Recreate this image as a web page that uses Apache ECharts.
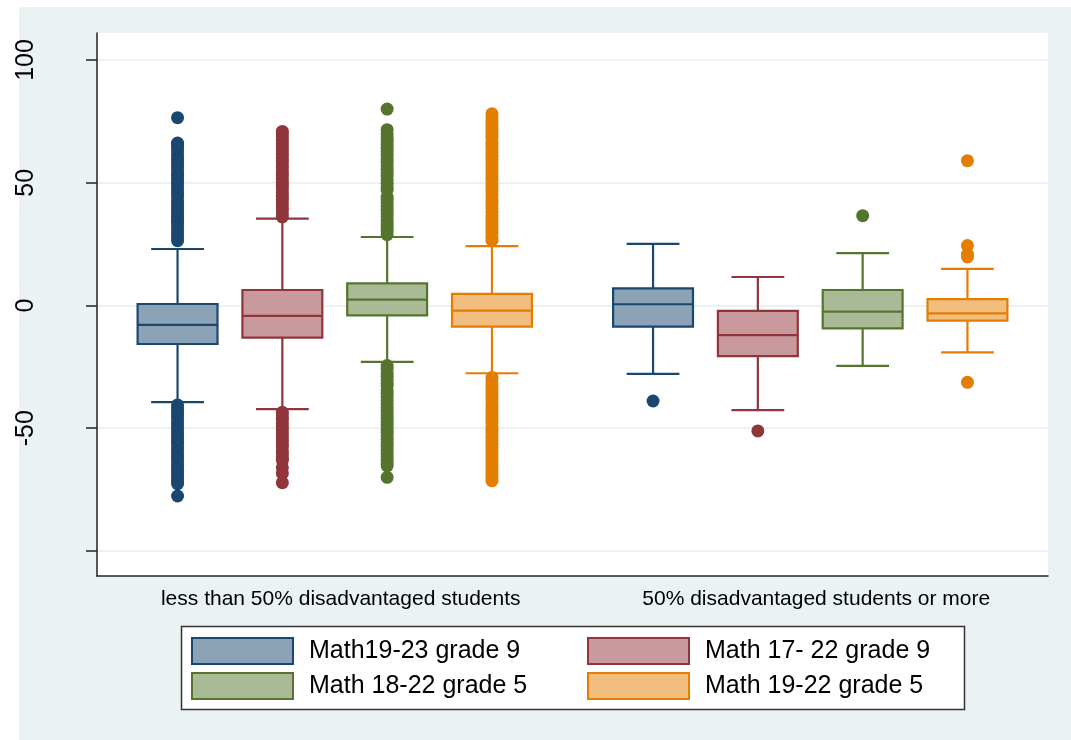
<!DOCTYPE html>
<html>
<head>
<meta charset="utf-8">
<title>Math score change by share of disadvantaged students</title>
<script src="https://cdn.jsdelivr.net/npm/echarts@6/dist/echarts.min.js"></script>
<style>
  html, body { margin: 0; padding: 0; background: #ffffff; }
  #backdrop { position: absolute; left: 19px; top: 7px; right: 0; bottom: 0; background: #eaf2f3; }
  #chart { position: absolute; left: 0; top: 0; width: 1071px; height: 740px; }
</style>
</head>
<body>
<div id="backdrop"></div>
<div id="chart"></div>
<script>
// School groups on the x axis
const groups = ['less than 50% disadvantaged students', '50% disadvantaged students or more'];

// Cohorts (one box per cohort in each group)
const cohorts = ['Math19-23 grade 9', 'Math 17- 22 grade 9', 'Math 18-22 grade 5', 'Math 19-22 grade 5'];

// Box statistics per group: [lower whisker, Q1, median, Q3, upper whisker]
const math1923g9 = [[-39.4, -15.7, -7.9, 0.6, 23.0], [-27.9, -8.6, 0.5, 7.0, 25.1]];
const math1722g9 = [[-42.2, -13.1, -4.2, 6.3, 35.4], [-42.6, -20.6, -12.1, -2.2, 11.6]];
const math1822g5 = [[-23.0, -4.0, 2.4, 9.0, 27.9], [-24.6, -9.3, -2.5, 6.3, 21.3]];
const math1922g5 = [[-27.6, -8.6, -2.1, 4.7, 24.2], [-19.1, -6.2, -3.2, 2.6, 14.9]];

// Outside values per group
const out1923g9 = [
  [26.4, 27.8, 29.3, 30.5, 32.1, 33.6, 34.4, 35.9, 37.2, 38.8, 40.1, 41.7, 43.0, 44.6, 45.9, 47.3, 48.8, 50.2,
   51.5, 53.1, 54.4, 55.9, 57.2, 58.8, 60.1, 61.5, 63.0, 64.4, 65.6, 66.2, 76.5,
   -40.5, -41.9, -43.4, -44.8, -46.1, -47.7, -49.0, -50.5, -51.9, -53.3, -54.8, -56.1, -57.6, -59.0, -60.4,
   -61.8, -63.2, -64.7, -66.0, -67.5, -68.9, -70.3, -71.6, -72.6, -77.6],
  [-38.9]
];
const out1722g9 = [
  [36.1, 37.4, 38.9, 40.3, 41.8, 43.2, 44.5, 46.0, 47.4, 48.9, 50.2, 51.7, 53.1, 54.5, 56.0, 57.3, 58.8, 60.2,
   61.6, 63.1, 64.4, 65.9, 67.3, 68.7, 70.0, 70.9,
   -43.5, -44.9, -46.3, -47.8, -49.2, -50.6, -52.1, -53.4, -54.9, -56.3, -57.7, -59.2, -60.5, -61.9, -63.0,
   -66.0, -68.4, -72.2],
  [-51.1]
];
const out1822g5 = [
  [28.9, 30.3, 31.8, 33.2, 34.6, 36.1, 37.5, 38.9, 40.4, 41.8, 43.1, 44.2, 47.0, 48.3, 49.8, 51.2, 52.7, 54.1,
   55.5, 57.0, 58.4, 59.8, 61.3, 62.7, 64.1, 65.6, 67.0, 68.4, 69.9, 71.6, 80.0,
   -24.5, -25.9, -27.4, -28.8, -30.2, -31.7, -32.6, -34.4, -35.8, -37.3, -38.7, -40.1, -41.6, -43.0, -44.4,
   -45.9, -47.3, -48.7, -50.2, -51.6, -53.0, -54.5, -55.9, -57.3, -58.8, -60.2, -61.6, -63.1, -64.4, -65.3, -70.0],
  [36.6]
];
const out1922g5 = [
  [26.6, 28.0, 29.5, 30.9, 32.3, 33.8, 35.2, 36.6, 38.1, 39.5, 40.9, 42.4, 43.8, 45.2, 46.7, 48.1, 49.5, 51.0,
   52.4, 53.8, 55.3, 56.7, 58.1, 59.6, 61.0, 62.4, 63.9, 65.3, 66.7, 68.2, 69.6, 71.0, 72.5, 73.9, 75.3, 76.8, 78.1,
   -29.3, -30.7, -32.2, -33.6, -35.0, -36.5, -37.9, -39.3, -40.8, -42.2, -43.6, -45.1, -46.5, -47.9, -49.4,
   -50.8, -52.2, -53.7, -55.1, -56.5, -58.0, -59.4, -60.8, -62.3, -63.7, -65.1, -66.6, -68.0, -69.4, -70.6, -71.4],
  [59.0, 24.4, 20.8, 19.8, -31.3]
];

// Y axis ticks and the ones that carry a label
const yTicks = [-100, -50, 0, 50, 100];
const yTickLabels = [-50, 0, 50, 100];

const boxStats = [math1923g9, math1722g9, math1822g5, math1922g5];
const outsideValues = [out1923g9, out1722g9, out1822g5, out1922g5];

// Stata s2color-like palette: outline and lighter fill
const lineColors = ['#1a476f', '#90353b', '#55752f', '#e37e00'];
const fillColors = ['#8ca3b7', '#c89a9d', '#aaba97', '#f1be80'];

// Horizontal placement of each cohort inside a group, as a fraction of the band
const offsets = [-0.3306, -0.1102, 0.1102, 0.3306];
const BOX_FRAC = 0.168;
const CAP_FRAC = 0.111;

function boxRenderer(k) {
  return function (params, api) {
    const idx = api.value(0);
    const band = api.size([1, 0])[0];
    const cx = api.coord([idx, 0])[0] + offsets[k] * band;
    const y = i => api.coord([idx, api.value(i)])[1];
    const yLw = y(1), yQ1 = y(2), yMed = y(3), yQ3 = y(4), yUw = y(5);
    const hw = band * BOX_FRAC / 2;
    const hc = band * CAP_FRAC / 2;
    const stroke = { stroke: lineColors[k], lineWidth: 2.2 };
    return {
      type: 'group',
      children: [
        { type: 'line', shape: { x1: cx, y1: yQ3, x2: cx, y2: yUw }, style: stroke },
        { type: 'line', shape: { x1: cx, y1: yQ1, x2: cx, y2: yLw }, style: stroke },
        { type: 'line', shape: { x1: cx - hc, y1: yUw, x2: cx + hc, y2: yUw }, style: stroke },
        { type: 'line', shape: { x1: cx - hc, y1: yLw, x2: cx + hc, y2: yLw }, style: stroke },
        { type: 'rect', shape: { x: cx - hw, y: yQ3, width: 2 * hw, height: yQ1 - yQ3 },
          style: { fill: fillColors[k], stroke: lineColors[k], lineWidth: 2.2 } },
        { type: 'line', shape: { x1: cx - hw, y1: yMed, x2: cx + hw, y2: yMed }, style: stroke }
      ]
    };
  };
}

function dotRenderer(k) {
  return function (params, api) {
    const idx = api.value(0);
    const band = api.size([1, 0])[0];
    const pt = api.coord([idx, api.value(1)]);
    return {
      type: 'circle',
      shape: { cx: pt[0] + offsets[k] * band, cy: pt[1], r: 6.5 },
      style: { fill: lineColors[k] }
    };
  };
}

const series = [];
cohorts.forEach((name, k) => {
  series.push({
    name: name,
    type: 'custom',
    renderItem: boxRenderer(k),
    itemStyle: { color: fillColors[k], borderColor: lineColors[k], borderWidth: 2 },
    data: boxStats[k].map((s, g) => [g].concat(s)),
    z: 3,
    silent: true
  });
});
cohorts.forEach((name, k) => {
  const pts = [];
  outsideValues[k].forEach((vals, g) => vals.forEach(v => pts.push([g, v])));
  series.push({
    name: name,
    type: 'custom',
    renderItem: dotRenderer(k),
    itemStyle: { color: lineColors[k] },
    data: pts,
    z: 4,
    silent: true
  });
});

function legendItem(k) {
  return {
    name: cohorts[k],
    icon: 'rect',
    itemStyle: { color: fillColors[k], borderColor: lineColors[k], borderWidth: 2 }
  };
}
const legendText = {
  fontFamily: 'Liberation Sans, Arial, sans-serif',
  fontSize: 25,
  color: '#000',
  padding: [0, 0, 0, 11]
};

const chart = echarts.init(document.getElementById('chart'), null, { renderer: 'canvas' });
chart.setOption({
  backgroundColor: 'transparent',
  animation: false,
  textStyle: { fontFamily: 'Liberation Sans, Arial, sans-serif' },
  grid: {
    left: 97, top: 33, right: 23, bottom: 164,
    show: true, backgroundColor: '#ffffff', borderWidth: 0
  },
  xAxis: {
    type: 'category',
    data: groups,
    boundaryGap: true,
    axisLine: { onZero: false, lineStyle: { color: '#222', width: 1.5 } },
    axisTick: { show: false },
    axisLabel: { color: '#000', fontSize: 21, margin: 13, padding: [0, 0, 0, 12] },
    splitLine: { show: false }
  },
  yAxis: {
    type: 'value',
    min: -110.2,
    max: 111,
    axisLine: { show: true, onZero: false, lineStyle: { color: '#222', width: 1.5 } },
    axisTick: { show: true, length: 11, customValues: yTicks, lineStyle: { color: '#222', width: 1.5 } },
    axisLabel: { color: '#000', fontSize: 25, rotate: 90, margin: 58, customValues: yTickLabels },
    splitLine: { show: true, lineStyle: { color: '#eaf2f3', width: 2 } }
  },
  legend: [
    {
      left: 191, top: 637, orient: 'vertical', padding: 0,
      itemWidth: 101, itemHeight: 26, itemGap: 7,
      selectedMode: false,
      textStyle: legendText,
      data: [legendItem(0), legendItem(2)]
    },
    {
      left: 587, top: 637, orient: 'vertical', padding: 0,
      itemWidth: 101, itemHeight: 26, itemGap: 7,
      selectedMode: false,
      textStyle: legendText,
      data: [legendItem(1), legendItem(3)]
    }
  ],
  graphic: [
    {
      type: 'rect', z: 0, silent: true,
      shape: { x: 181.5, y: 626.5, width: 783, height: 83 },
      style: { fill: '#ffffff', stroke: '#333', lineWidth: 1.5 }
    }
  ],
  series: series
});
</script>
</body>
</html>
